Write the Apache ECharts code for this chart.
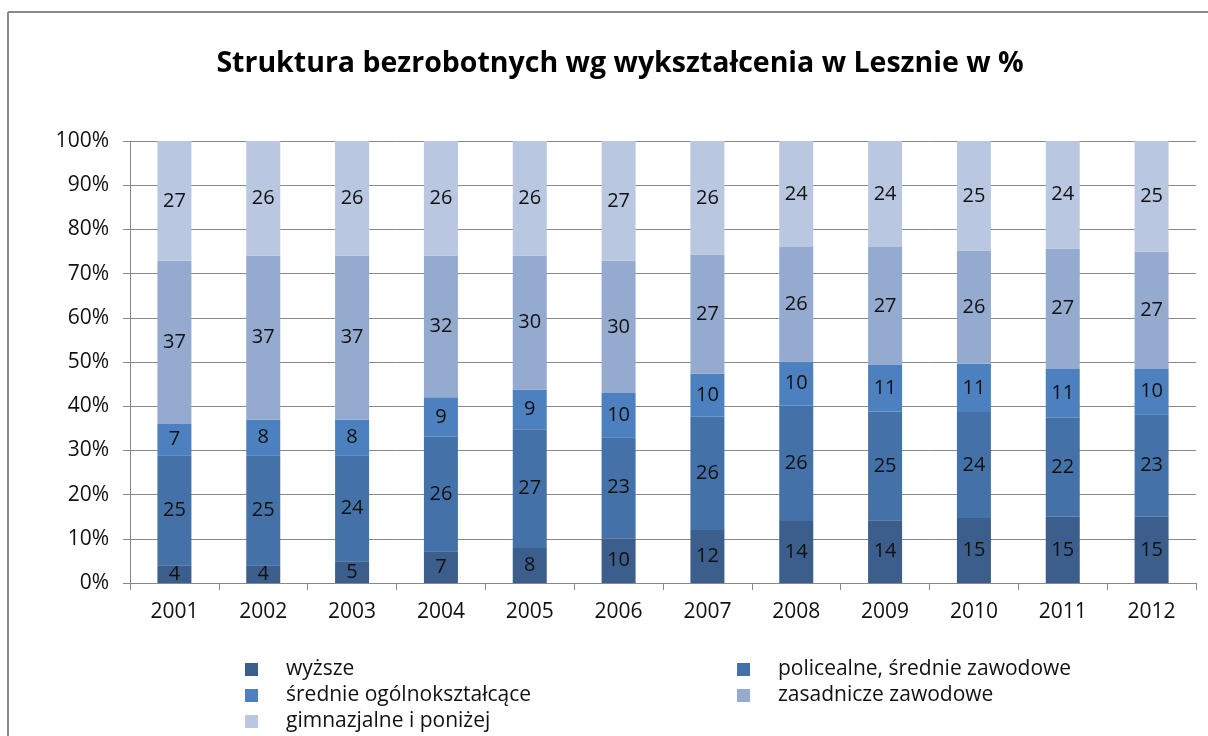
<!DOCTYPE html>
<html>
<head>
<meta charset="utf-8">
<script src="https://cdn.jsdelivr.net/npm/echarts@6/dist/echarts.min.js"></script>
<style>html,body{margin:0;padding:0;background:#fff}#c{width:1208px;height:736px}</style>
</head>
<body>
<div id="c"></div>
<script>
var years = ['2001','2002','2003','2004','2005','2006','2007','2008','2009','2010','2011','2012'];
var seriesNames = ['wyższe','policealne, średnie zawodowe','średnie ogólnokształcące','zasadnicze zawodowe','gimnazjalne i poniżej'];
var wyzsze      = [4.0, 4.0, 4.9, 7.2, 7.9, 10.1, 12.0, 14.0, 14.2, 14.7, 15.0, 15.0];
var policealne  = [24.9, 24.9, 24.0, 25.9, 26.9, 22.9, 25.6, 26.1, 24.6, 24.0, 22.4, 23.2];
var srednie     = [7.1, 8.1, 8.1, 8.9, 9.0, 10.0, 9.8, 10.0, 10.5, 10.9, 11.0, 10.2];
var zasadnicze  = [36.9, 37.1, 37.1, 32.1, 30.3, 29.9, 26.9, 25.9, 26.7, 25.6, 27.3, 26.6];
var gimnazjalne = [27.1, 25.9, 25.9, 25.9, 25.9, 27.1, 25.7, 24.0, 24.0, 24.8, 24.3, 25.0];
var yTicks = [0,10,20,30,40,50,60,70,80,90,100];

var colors = ['#3B5E8C','#4472A8','#4D80BE','#95AACF','#BAC7E1'];
var allData = [wyzsze, policealne, srednie, zasadnicze, gimnazjalne];
var font = 'Open Sans';

var chart = echarts.init(document.getElementById('c'));
var series = allData.map(function(d, i){
  return {
    name: seriesNames[i], type: 'bar', stack: 'total', data: d,
    barWidth: 34,
    itemStyle: {color: colors[i]},
    label: {show: true, position: 'inside', color: '#111', fontFamily: font, fontSize: 20,
      formatter: function(p){ return Math.round(p.value); }},
    emphasis: {disabled: true}
  };
});
var legendText = {fontFamily: font, fontSize: 21, color: '#111', padding: [0,0,0,23]};
// legend layout: [series index, left, top]
var legendPos = [[0, 245, 659], [1, 737, 659], [2, 245, 685], [3, 737, 685], [4, 245, 711]];
var legends = legendPos.map(function(p){
  return {data: [seriesNames[p[0]]], left: p[1], top: p[2], padding: 0, icon: 'rect',
    itemWidth: 13, itemHeight: 13, textStyle: legendText, selectedMode: false};
});
chart.setOption({
  animation: false,
  color: colors,
  title: {text: 'Struktura bezrobotnych wg wykształcenia w Lesznie w %', left: 615, textAlign: 'center', top: 44,
    textStyle: {fontFamily: font, fontSize: 28.5, fontWeight: 'bold', color: '#000'}},
  graphic: [
    {type: 'line', shape: {x1: 8, y1: 12, x2: 1208, y2: 12}, style: {stroke: '#8a8a8a', lineWidth: 2}},
    {type: 'line', shape: {x1: 8, y1: 12, x2: 8, y2: 736}, style: {stroke: '#8a8a8a', lineWidth: 2}}
  ],
  legend: legends,
  grid: {left: 130, right: 12, top: 141, bottom: 153},
  xAxis: {type: 'category', data: years,
    axisLine: {lineStyle: {color: '#888', width: 1}},
    axisTick: {show: true, length: 7, lineStyle: {color: '#888'}},
    axisLabel: {fontFamily: font, fontSize: 21, color: '#111', margin: 19}},
  yAxis: {type: 'value', min: 0, max: 100, interval: 10,
    axisLine: {show: true, lineStyle: {color: '#888'}},
    axisTick: {show: true, length: 7, lineStyle: {color: '#888'}},
    splitLine: {lineStyle: {color: '#888', width: 1}},
    axisLabel: {fontFamily: font, fontSize: 21, color: '#111', margin: 21,
      formatter: function(v){ return yTicks.indexOf(v) >= 0 ? v + '%' : ''; }}},
  series: series
});
</script>
</body>
</html>
